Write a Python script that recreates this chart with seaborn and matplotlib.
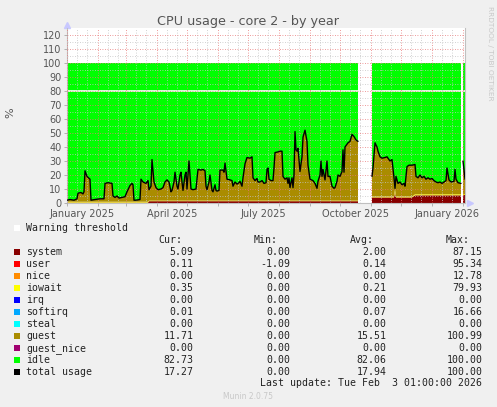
import numpy as np
import pandas as pd
import seaborn as sns
import matplotlib
matplotlib.use('Agg')
import matplotlib.pyplot as plt
import matplotlib.dates as mdates
from matplotlib.patches import Rectangle
from matplotlib.ticker import NullFormatter

# ------------------------------------------------------------------ data ---- #
# day offsets from 2025-01-01, nan rows are the holes in the graph
days = [
    0, 3, 7, 10, 11, 14, 16, 17, 18, 20, 23, 24, 28, 33, 37, 38, 41, 45, 46, 48,
    50, 52, 55, 58, 60, 63, 65, 66, 67, 69, 73, 74, 76, 79, 81,
    82, 84, 85, 87, 89, 91, 94, 96, 98, 100, 102, 104, 105, 107, 108, 110, 111, 113, 114, 115,
    116, 118, 119, 120, 122, 124, 126, 129, 130, 131, 134, 136, 138, 139, 140, 142, 143, 145, 146, 148,
    149, 150, 152,
    153, 156, 157, 158, 160, 163, 165, 166, 168, 170, 172, 173, 175, 176, 178, 180, 183, 185, 186, 188,
    190, 191, 193, 195, 197, 199, 200, 201, 202, 204, 206, 207, 208, 211, 213, 215, 216, 218, 220, 221,
    222, 223, 225, 226, 227, 228, 229, 230, 231, 233, 235, 236, 238, 240, 241, 243, 246, 248, 250, 251,
    253, 254, 255, 256, 258, 260, 261, 263, 265, 267, 268, 270, 271, 273, 275, 276, 277, 278, 281, 283,
    285, 287, 289, 291,
    298,
    305, 306, 308, 310, 311, 313, 315, 318, 320, 322, 323, 325, 327, 328, 329, 331, 333, 335, 337, 338,
    340, 342, 345, 348, 349, 351, 353, 355, 357, 359, 361, 363, 365, 367, 369, 371, 373, 375, 377, 379,
    380, 382, 384, 387, 388, 389, 391, 394,
    395,
    396, 398,
]

total_usage = [
    2, 2.5, 2, 3, 7, 7.5, 6.5, 8, 23, 19, 17, 2, 2.5, 3, 3, 14, 14.5, 14, 5, 4,
    5, 3.5, 4, 4.5, 8, 12.5, 14, 13, 2, 2, 2.5, 17, 15, 14, 16,
    9.5, 12, 31, 15, 11, 9.5, 10, 11, 15, 16.5, 15, 8, 9, 15, 22, 12, 10, 20, 22, 15,
    9, 20, 22, 10, 30, 10, 9.5, 10, 17, 24, 23.5, 24, 23, 12, 9.5, 15, 20, 9, 8, 13,
    9, 8.5, 9,
    23.5, 23.5, 22, 28.5, 17, 16.5, 16, 12, 15, 13.5, 14.5, 15.5, 12, 18, 28, 32.5, 32, 33, 18, 16,
    17.5, 15, 15, 16, 14, 14.5, 24, 25, 17, 16, 16, 25, 36, 36.5, 37, 37, 19, 17, 18, 14,
    18, 11, 18, 11, 20, 51, 38, 37, 39, 22.5, 33, 47, 52, 44, 27, 17, 16, 14, 10.5, 15.5,
    20, 30, 19, 24, 16.5, 30, 19, 19, 12, 10.5, 11, 15.5, 20, 19, 22.5, 38, 22, 40, 43, 44,
    49, 47.5, 45, 44,
    np.nan,
    19, 25, 43, 40, 37, 33, 32, 32.5, 33, 31, 30, 31, 18, 10.5, 19, 14, 15, 13, 14, 12,
    26, 27, 27, 27.5, 19, 18, 20, 18, 19, 17, 18, 17, 17.5, 16, 15, 14.5, 15, 14, 15, 16,
    25, 16.5, 15, 15.5, 24, 17, 14.5, 14,
    np.nan,
    30, 17,
]

system = [
    0.3, 0.3, 0.3, 0.3, 0.3, 0.3, 0.3, 0.3, 0.3, 0.3, 0.3, 0.3, 0.3, 0.3, 0.3, 0.3, 0.3, 0.3, 0.3, 0.3,
    0.3, 0.3, 0.3, 0.3, 0.3, 0.3, 0.3, 0.3, 0.3, 0.3, 0.3, 0.3, 0.3, 0.3, 0.3,
    1.3, 1.3, 1.3, 1.3, 1.3, 1.3, 1.3, 1.3, 1.3, 1.3, 1.3, 1.3, 1.3, 1.3, 1.3, 1.3, 1.3, 1.3, 1.3, 1.3,
    1.3, 1.3, 1.3, 1.3, 1.3, 1.3, 1.3, 1.3, 1.3, 1.3, 1.3, 1.3, 1.3, 1.3, 1.3, 1.3, 1.3, 1.3, 1.3, 1.3,
    1.3, 1.3, 1.3,
    1.3, 1.3, 1.3, 1.3, 1.3, 1.3, 1.3, 1.3, 1.3, 1.3, 1.3, 1.3, 1.3, 1.3, 1.3, 1.3, 1.3, 1.3, 1.3, 1.3,
    1.3, 1.3, 1.3, 1.3, 1.3, 1.3, 1.3, 1.3, 1.3, 1.3, 1.3, 1.3, 1.3, 1.3, 1.3, 1.3, 1.3, 1.3, 1.3, 1.3,
    1.3, 1.3, 1.3, 1.3, 1.3, 1.3, 1.3, 1.3, 1.3, 1.3, 1.3, 1.3, 1.3, 1.3, 1.3, 1.3, 1.3, 1.3, 1.3, 1.3,
    1.3, 1.3, 1.3, 1.3, 1.3, 1.3, 1.3, 1.3, 1.3, 1.3, 1.3, 1.3, 1.3, 1.3, 1.3, 1.3, 1.3, 1.3, 1.3, 1.3,
    1.3, 1.3, 1.3, 1.3,
    np.nan,
    4, 4, 4, 4, 4, 4, 4, 4, 4, 4, 4, 4, 4, 7.5, 4, 4, 4, 4, 4, 4,
    4, 4, 4, 5.5, 5.5, 5.5, 5.5, 5.5, 5.5, 5.5, 5.5, 5.5, 5.5, 5.5, 5.5, 5.5, 5.5, 5.5, 5.5, 5.5,
    5.5, 5.5, 5.5, 5.5, 5.5, 5.5, 5.5, 5.5,
    np.nan,
    5.5, 5.5,
]

iowait = [
    0.6, 0.6, 0.6, 0.6, 0.6, 0.6, 0.6, 0.6, 0.6, 0.6, 0.6, 0.6, 0.6, 0.6, 0.6, 0.6, 0.6, 0.6, 0.6, 0.6,
    0.6, 0.6, 0.6, 0.6, 0.6, 0.6, 0.6, 0.6, 0.6, 0.6, 0.6, 0.6, 0.6, 0.6, 0.6,
    0.4, 0.4, 0.4, 0.4, 0.4, 0.4, 0.4, 0.4, 0.4, 0.4, 0.4, 0.4, 0.4, 0.4, 0.4, 0.4, 0.4, 0.4, 0.4, 0.4,
    0.4, 0.4, 0.4, 0.4, 0.4, 0.4, 0.4, 0.4, 0.4, 0.4, 0.4, 0.4, 0.4, 0.4, 0.4, 0.4, 0.4, 0.4, 0.4, 0.4,
    0.4, 0.4, 0.4,
    0.4, 0.4, 0.4, 0.4, 0.4, 0.4, 0.4, 0.4, 0.4, 0.4, 0.4, 0.4, 0.4, 0.4, 0.4, 0.4, 0.4, 0.4, 0.4, 0.4,
    0.4, 0.4, 0.4, 0.4, 0.4, 0.4, 0.4, 0.4, 0.4, 0.4, 0.4, 0.4, 0.4, 0.4, 0.4, 0.4, 0.4, 0.4, 0.4, 0.4,
    0.4, 0.4, 0.4, 0.4, 0.4, 0.4, 0.4, 0.4, 0.4, 0.4, 0.4, 0.4, 0.4, 0.4, 0.4, 0.4, 0.4, 0.4, 0.4, 0.4,
    0.4, 0.4, 0.4, 0.4, 0.4, 0.4, 0.4, 0.4, 0.4, 0.4, 0.4, 0.4, 0.4, 0.4, 0.4, 0.4, 0.4, 0.4, 0.4, 0.4,
    0.4, 0.4, 0.4, 0.4,
    np.nan,
    0.6, 0.6, 0.6, 0.6, 0.6, 0.6, 0.6, 0.6, 0.6, 0.6, 0.6, 0.6, 0.6, 2.5, 0.6, 0.6, 0.6, 0.6, 0.6, 0.6,
    0.6, 0.6, 0.6, 0.7, 0.7, 0.7, 0.7, 0.7, 0.7, 0.7, 0.7, 0.7, 0.7, 0.7, 0.7, 0.7, 0.7, 0.7, 0.7, 0.7,
    0.7, 0.7, 0.7, 0.7, 0.7, 0.7, 0.7, 0.7,
    np.nan,
    0.7, 0.7,
]

# x tick labels (rrdtool puts them in the middle of the month)
label_dates = ['2025-01-16', '2025-04-16', '2025-07-16', '2025-10-16', '2026-01-16']
label_texts = ['January 2025', 'April 2025', 'July 2025', 'October 2025', 'January 2026']

# legend table
legend_names = ['system', 'user', 'nice', 'iowait', 'irq', 'softirq', 'steal',
                'guest', 'guest_nice', 'idle', 'total usage']
legend_colors = ['#880000', '#FF0000', '#FF8C00', '#FFFF00', '#0000FF', '#00A8FF',
                 '#00FFFF', '#AA8C00', '#A00070', '#00FF00', '#000000']
cur_vals = [5.09, 0.11, 0.00, 0.35, 0.00, 0.01, 0.00, 11.71, 0.00, 82.73, 17.27]
min_vals = [0.00, -1.09, 0.00, 0.00, 0.00, 0.00, 0.00, 0.00, 0.00, 0.00, 0.00]
avg_vals = [2.00, 0.14, 0.00, 0.21, 0.00, 0.07, 0.00, 15.51, 0.00, 82.06, 17.94]
max_vals = [87.15, 95.34, 12.78, 79.93, 0.00, 16.66, 0.00, 100.99, 0.00, 100.00, 100.00]

warning_level = 80

# ------------------------------------------------------------------ plot ---- #
sns.set_theme(style='white')
plt.rcParams['font.family'] = ['DejaVu Sans']

W, H = 497, 407
fig = plt.figure(figsize=(W / 100, H / 100), dpi=100, facecolor='#F0F0F0')
ax = fig.add_axes([67 / W, 1 - 203 / H, 398 / W, 175 / H])
ax.set_facecolor('white')

dates = pd.Timestamp('2025-01-01') + pd.to_timedelta(days, unit='D')
total = np.array(total_usage, dtype=float)
sys_a = np.array(system, dtype=float)
io_a = np.array(iowait, dtype=float)
guest = total - sys_a - io_a
idle = 100 - total

ax.stackplot(dates, sys_a, io_a, guest, idle,
             colors=['#880000', '#FFFF00', '#AA8C00', '#00FF00'], linewidth=0, zorder=1)
ax.axhline(warning_level, color='white', lw=1.2, zorder=1.5)

df = pd.DataFrame({'date': dates, 'total': total})
df['seg'] = np.cumsum(np.isnan(total))
df = df.dropna()
sns.lineplot(data=df, x='date', y='total', units='seg', estimator=None,
             color='black', lw=1.0, ax=ax, zorder=3)

ax.set_xlim(pd.Timestamp('2025-01-01'), pd.Timestamp('2026-02-03'))
ax.set_ylim(0, 125)
ax.set_xlabel('')
ax.set_ylabel('')

ax.set_yticks(np.arange(0, 121, 10))
ax.set_yticks(np.arange(5, 125, 10), minor=True)
ax.xaxis.set_major_locator(mdates.MonthLocator())
ax.xaxis.set_minor_locator(mdates.MonthLocator(bymonthday=[11, 21]))
ax.xaxis.set_major_formatter(NullFormatter())
ax.xaxis.set_minor_formatter(NullFormatter())

ax.set_axisbelow(False)
ax.grid(which='major', color='#E87878', ls=(0, (1, 2)), lw=0.6)
ax.grid(which='minor', color='#C4C4C4', ls=(0, (1, 2)), lw=0.6)
ax.tick_params(which='major', length=2, width=0.6, color='#A8A8A8',
               labelsize=7, labelcolor='#555555', pad=2, left=True, bottom=True)
ax.tick_params(which='minor', length=0)

for s in ['left', 'bottom', 'right']:
    ax.spines[s].set_color('#C0C0C0')
    ax.spines[s].set_linewidth(0.8)
ax.spines['top'].set_visible(False)

# axis arrows
ax.plot([0], [1.02], marker='^', ms=4, color='#C8C8FF', transform=ax.transAxes, clip_on=False)
ax.plot([1.012], [0], marker='>', ms=4, color='#C8C8FF', transform=ax.transAxes, clip_on=False)

for d, t in zip(label_dates, label_texts):
    ax.text(mdates.date2num(pd.Timestamp(d)), -0.034, t, ha='center', va='top',
            fontsize=7, color='#555555', transform=ax.get_xaxis_transform())


def fx(x):
    return x / W


def fy(y):
    return 1 - y / H


fig.text(fx(248), fy(25), 'CPU usage - core 2 - by year', ha='center', va='baseline',
         fontsize=9.2, color='#555555')
fig.text(fx(10), fy(113), '%', rotation=90, ha='center', va='center', fontsize=8, color='#555555')
fig.text(fx(490), fy(53), 'RRDTOOL / TOBI OETIKER', rotation=270, ha='center', va='center',
         fontsize=5.3, color='#C8C8C8')

# legend below the graph
mono = dict(family='DejaVu Sans Mono', fontsize=7.1, color='#222222')


def square(x, y, c):
    fig.add_artist(Rectangle((fx(x), fy(y + 6)), 6 / W, 6 / H, transform=fig.transFigure,
                             facecolor=c, edgecolor='none'))


square(14, 225, 'white')
fig.text(fx(26.3), fy(231), 'Warning threshold', ha='left', va='baseline', **mono)

for x, h in zip([182, 278, 374, 470], ['Cur:', 'Min:', 'Avg:', 'Max:']):
    fig.text(fx(x), fy(242.7), h, ha='right', va='baseline', **mono)

for i, name in enumerate(legend_names):
    base = 254.7 + 12 * i
    square(14, 249 + 12 * i, legend_colors[i])
    fig.text(fx(26.3), fy(base), name, ha='left', va='baseline', **mono)
    for x, v in zip([193.5, 290, 386.7, 482.3],
                    [cur_vals[i], min_vals[i], avg_vals[i], max_vals[i]]):
        fig.text(fx(x), fy(base), f'{v:.2f}', ha='right', va='baseline', **mono)

fig.text(fx(482.3), fy(386.5), 'Last update: Tue Feb  3 01:00:00 2026', ha='right',
         va='baseline', **mono)
fig.text(fx(248), fy(399), 'Munin 2.0.75', ha='center', va='baseline', fontsize=5.5,
         color='#C8C8C8')

fig.savefig('out.png', dpi=100, facecolor=fig.get_facecolor())
